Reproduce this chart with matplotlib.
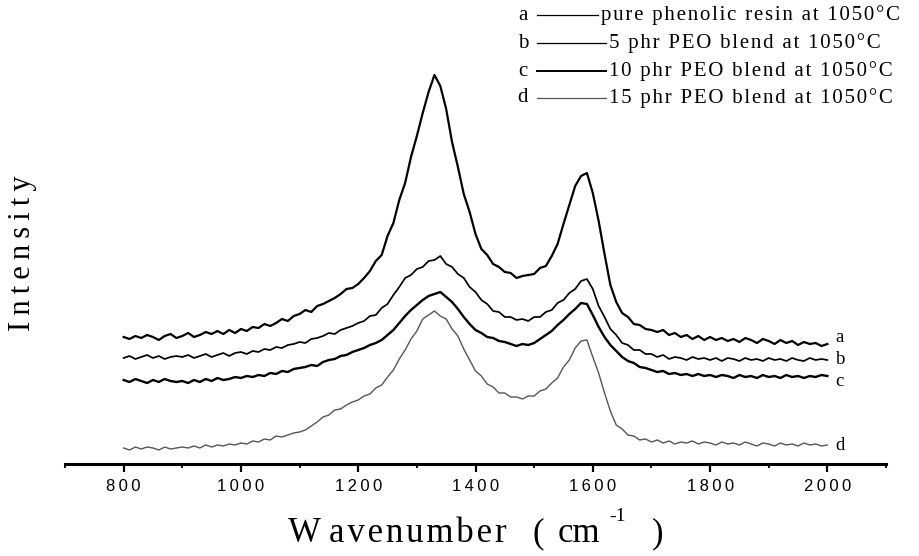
import numpy as np
import matplotlib
matplotlib.use("Agg")
import matplotlib.pyplot as plt
from matplotlib.lines import Line2D

# Raman spectra, every 10 cm-1 (arbitrary intensity units)
wavenumber = np.arange(800, 2001, 10)

curve_a = [127, 125, 128, 126, 129, 127, 124, 128, 130, 126,
           128, 131, 127, 129, 132, 130, 133, 130, 134, 131,
           135, 133, 137, 136, 140, 138, 141, 145, 143, 148,
           150, 154, 152, 158, 160, 163, 166, 170, 175, 176,
           180, 186, 193, 203, 209, 228, 241, 264, 281, 307,
           328, 351, 372, 389, 378, 355, 322, 297, 270, 252,
           230, 215, 209, 200, 197, 192, 191, 186, 188, 189,
           190, 196, 198, 208, 220, 240, 259, 278, 288, 291,
           271, 243, 210, 179, 162, 151, 147, 140, 139, 135,
           134, 132, 134, 129, 131, 127, 129, 125, 128, 124,
           127, 124, 126, 123, 125, 122, 126, 124, 121, 125,
           123, 120, 124, 121, 123, 119, 122, 120, 121, 118,
           120]

curve_b = [106, 108, 105, 107, 109, 106, 108, 105, 107, 108,
           107, 109, 106, 108, 110, 107, 109, 111, 108, 111,
           112, 110, 113, 112, 115, 114, 117, 116, 119, 120,
           122, 121, 125, 126, 128, 131, 130, 134, 136, 138,
           141, 143, 148, 149, 156, 160, 169, 177, 186, 189,
           195, 197, 203, 204, 208, 200, 197, 190, 186, 177,
           172, 164, 160, 153, 152, 147, 147, 144, 145, 143,
           147, 147, 152, 154, 161, 164, 171, 175, 183, 185,
           175, 158, 147, 135, 129, 121, 119, 114, 114, 110,
           110, 107, 109, 105, 107, 106, 104, 107, 105, 106,
           104, 106, 103, 106, 105, 103, 106, 104, 105, 103,
           106, 104, 105, 103, 106, 104, 103, 106, 104, 105,
           104]

curve_c = [84, 82, 85, 83, 81, 84, 82, 85, 83, 82,
           83, 81, 84, 82, 85, 83, 86, 84, 85, 87,
           86, 88, 87, 89, 88, 91, 90, 93, 92, 95,
           96, 97, 99, 98, 102, 104, 105, 108, 109, 112,
           114, 116, 119, 121, 124, 129, 134, 141, 148, 154,
           159, 164, 168, 170, 172, 167, 162, 155, 147, 140,
           134, 131, 127, 126, 123, 122, 120, 118, 120, 119,
           121, 125, 129, 133, 139, 144, 150, 155, 161, 160,
           149, 137, 127, 119, 113, 107, 103, 101, 97, 96,
           94, 92, 93, 90, 91, 89, 90, 88, 90, 88,
           89, 87, 89, 88, 86, 89, 87, 88, 86, 89,
           87, 88, 86, 89, 87, 88, 86, 88, 87, 89,
           88]

curve_d = [16, 14, 17, 15, 17, 16, 14, 17, 15, 16,
           17, 16, 18, 16, 19, 17, 19, 18, 20, 19,
           21, 20, 23, 22, 25, 24, 28, 27, 29, 31,
           32, 34, 38, 42, 47, 49, 54, 55, 59, 62,
           64, 68, 70, 76, 79, 87, 94, 105, 114, 125,
           133, 145, 149, 153, 148, 145, 135, 128, 115, 104,
           93, 88, 80, 77, 71, 71, 67, 67, 65, 68,
           68, 73, 75, 81, 86, 97, 104, 116, 123, 124,
           107, 91, 71, 53, 39, 35, 29, 28, 24, 25,
           22, 24, 21, 23, 20, 22, 21, 23, 20, 22,
           21, 19, 22, 20, 21, 19, 22, 20, 18, 21,
           20, 18, 21, 19, 20, 18, 21, 19, 20, 18,
           19]

curve_labels = ["a", "b", "c", "d"]
legend_names = ["pure phenolic resin at 1050°C",
                "5 phr PEO blend at 1050°C",
                "10 phr PEO blend at 1050°C",
                "15 phr PEO blend at 1050°C"]
major_ticks = [800, 1000, 1200, 1400, 1600, 1800, 2000]
minor_ticks = [700, 900, 1100, 1300, 1500, 1700, 1900, 2100]

SERIF = ["Liberation Serif", "DejaVu Serif"]
SANS = ["Liberation Sans", "DejaVu Sans"]
HAIR = "\u200a"
THIN = "\u2009"


def spaced(s, sep=THIN):
    """Imitate the letter spacing of the scanned figure"""
    return sep.join(s)


def px(x, y):
    """pixel position (from top left) -> figure fraction"""
    return x / 919, 1 - y / 556


curves = [curve_a, curve_b, curve_c, curve_d]
colors = ["black", "black", "black", "#555555"]
widths = [1.6, 1.25, 1.7, 1.0]

fig = plt.figure(figsize=(9.19, 5.56), dpi=100)
ax = fig.add_axes([65 / 919, 92 / 556, 821 / 919, 440 / 556])

for y, col, lw in zip(curves, colors, widths):
    ax.plot(wavenumber, y, color=col, lw=lw)

# letters at the right end of each curve
end_label_y = [126, 104, 82, 19]
for lab, yl in zip(curve_labels, end_label_y):
    ax.text(2014, yl, lab, fontsize=13.5, family=SERIF, ha="left", va="center")

ax.set_xlim(700, 2100)
ax.set_ylim(0, 440)
ax.set_xticks(major_ticks)
ax.set_xticks(minor_ticks, minor=True)
ax.set_xticklabels([spaced(str(t)) for t in major_ticks], family=SANS, fontsize=12)
ax.set_yticks([])
for side in ["top", "right", "left"]:
    ax.spines[side].set_visible(False)
ax.spines["bottom"].set_linewidth(2.2)
ax.tick_params(axis="x", which="major", direction="out", length=6, width=1.6, pad=5)
ax.tick_params(axis="x", which="minor", direction="out", length=3, width=1.3)

# legend drawn by hand, like the original
rows_y = [15, 43, 71, 98]
line_end = [598, 606, 606, 606]
legend_lw = [0.9, 0.9, 1.4, 0.9]
for lab, name, y_px, x_end, col, lw in zip(curve_labels, legend_names, rows_y,
                                           line_end, colors, legend_lw):
    fig.text(*px(523, y_px), lab, fontsize=15, family=SERIF, ha="center", va="center")
    (x0, yf), (x1, _) = px(537, y_px), px(x_end, y_px)
    fig.add_artist(Line2D([x0, x1], [yf, yf], color=col, lw=lw, transform=fig.transFigure))
    fig.text(*px(x_end + 3, y_px), spaced(name, HAIR), fontsize=15, family=SERIF,
             ha="left", va="center")

# x axis title, piece by piece to keep the wide spacing
xlab = dict(fontsize=25, family=SERIF, ha="left", va="baseline")
fig.text(*px(288, 542), "W", **xlab)
fig.text(*px(329, 542), spaced("avenumber", HAIR), **xlab)
fig.text(*px(533, 542), "(", **xlab)
fig.text(*px(558, 542), "cm", **xlab)
fig.text(*px(609, 521), "-1", fontsize=14, family=SERIF, ha="left", va="baseline")
fig.text(*px(652, 542), ")", **xlab)

fig.text(*px(23, 253), spaced("Intensity"), fontsize=22, family=SERIF,
         rotation=90, ha="center", va="center")

fig.savefig("out.png", dpi=100)
